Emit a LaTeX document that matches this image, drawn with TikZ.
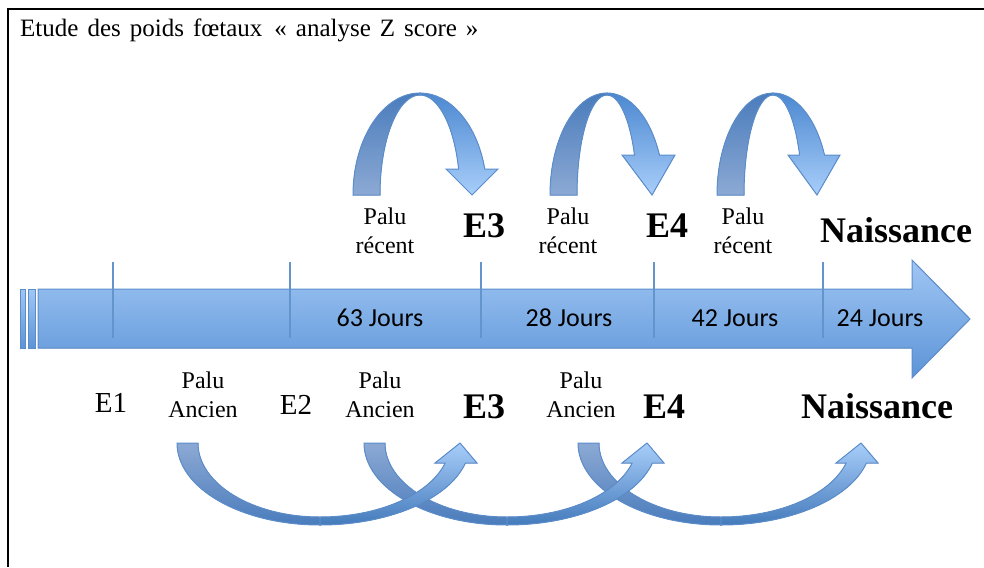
\documentclass[tikz,border=0pt]{standalone}
\usepackage{fontspec}
\setmainfont{Liberation Serif}
\newfontfamily\calibri{Carlito}
\definecolor{bandline}{RGB}{92,141,203}
\definecolor{tickblue}{RGB}{100,148,204}
\definecolor{barlight}{RGB}{160,198,244}
\definecolor{bardark}{RGB}{92,148,215}
\definecolor{backtop}{RGB}{74,124,188}
\definecolor{backbot}{RGB}{140,169,212}
\definecolor{fronttop}{RGB}{76,136,208}
\definecolor{frontbot}{RGB}{168,206,250}

% curved arrow over the bar: #1 leg x, #2 peak x, #3 head base y, #4/#5 head corners, #6 tip x
\newcommand\toparc[6]{%
  \pgfmathsetmacro\ao{#2-#1}
  \pgfmathsetmacro\ai{#2-#1-27}
  \pgfmathsetmacro\angout{360-asin((195-#3)/102)}
  \pgfmathsetmacro\angin{360-asin((195-#3)/100)}
  \filldraw[back] (#1,195) arc[start angle=180, end angle=270, x radius=\ao, y radius=102]
    -- (#2,95) arc[start angle=270, end angle=180, x radius=\ai, y radius=100] -- cycle;
  \filldraw[front] (#2,93) arc[start angle=270, end angle=\angout, x radius=\ao, y radius=102]
    -- (#5,#3) -- (#6,195) -- (#4,#3) -- ({#2+\ai*cos(\angin)},#3)
    arc[start angle=\angin, end angle=270, x radius=\ai, y radius=100] -- cycle;
}
% curved arrow under the bar: #1 leg x
\newcommand\botarc[1]{%
  \pgfmathsetmacro\cx{#1+143}
  \filldraw[backlow] (#1,443) arc[start angle=180, end angle=90, x radius=143, y radius=82]
    -- (\cx,517) arc[start angle=90, end angle=180, x radius=122, y radius=74] -- cycle;
  \filldraw[frontlow] (\cx,525) arc[start angle=90, end angle={asin(20/82)}, x radius=150, y radius=82]
    -- (#1+300,463) -- (#1+283,443) -- (#1+258,463) -- ({\cx+130*cos(asin(20/74))},463)
    arc[start angle={asin(20/74)}, end angle=90, x radius=130, y radius=74] -- cycle;
}

\begin{document}
\begin{tikzpicture}[x=1pt,y=-1pt,
    lab/.style={font=\fontsize{24}{28.5}\selectfont,align=center,inner sep=0pt,anchor=base},
    ev/.style={font=\fontsize{29}{32}\selectfont,inner sep=0pt,anchor=base},
    big/.style={font=\fontsize{36}{40}\selectfont\bfseries,inner sep=0pt,anchor=base},
    jours/.style={font=\calibri\fontsize{26}{30}\selectfont,inner sep=0pt,anchor=base},
    tick/.style={draw=tickblue,line width=2.8pt},
    back/.style={draw=bandline,line width=1pt,top color=backtop,bottom color=backbot},
    front/.style={draw=bandline,line width=1pt,top color=fronttop,bottom color=frontbot},
    backlow/.style={draw=bandline,line width=1pt,top color=backbot,bottom color=backtop},
    frontlow/.style={draw=bandline,line width=1pt,top color=frontbot,bottom color=fronttop!90!black}]
\useasboundingbox (0,0) rectangle (984,567);
\draw[line width=2pt] (984,9) -- (8,9) -- (8,567);
\node[font=\fontsize{25}{28}\selectfont,anchor=base west,inner sep=0pt] (title) at (20,37)
  {\spaceskip=9pt\relax Etude des poids fœtaux \hspace{3pt}«~analyse Z score~»};

% the time bar
\filldraw[draw=bandline,line width=1pt,top color=barlight,bottom color=bardark]
  (38,289) -- (912,289) -- (912,260) -- (970,319) -- (912,378) -- (912,348) -- (38,348) -- cycle;
\filldraw[draw=bandline,line width=1pt,top color=barlight,bottom color=bardark] (20,289) rectangle (25,348);
\filldraw[draw=bandline,line width=1pt,top color=barlight,bottom color=bardark] (28,289) rectangle (35,348);
\foreach \t/\x in {t1/113,t2/290,t3/481,t4/654,t5/823}{
  \coordinate (\t) at (\x,262);
  \draw[tick] (\t) -- ++(0,76);
}
\node[jours] (j1) at (380,326) {63 Jours};
\node[jours] (j2) at (569,326) {28 Jours};
\node[jours] (j3) at (735,326) {42 Jours};
\node[jours] (j4) at (880,326) {24 Jours};

% recent malaria
\toparc{353}{420}{169}{446}{498}{472}
\toparc{550}{607}{155}{622}{675}{652}
\toparc{717}{773}{155}{788}{840}{817}
\node[lab] (r1) at (385,253) {Palu\\récent};
\node[lab] (r2) at (568,253) {Palu\\récent};
\node[lab] (r3) at (743,253) {Palu\\récent};
\node[big] (e3a) at (484,237) {E3};
\node[big] (e4a) at (667,237) {E4};
\node[big] (na) at (896,242) {Naissance};

% old malaria
\botarc{578}
\botarc{364}
\botarc{177}
\node[ev] (e1) at (111,412) {E1};
\node[ev] (e2) at (296,414) {E2};
\node[lab] (a1) at (203,417) {Palu\\Ancien};
\node[lab] (a2) at (380,417) {Palu\\Ancien};
\node[lab] (a3) at (581,417) {Palu\\Ancien};
\node[big] (e3b) at (484,418) {E3};
\node[big] (e4b) at (664,418) {E4};
\node[big] (nb) at (877,418) {Naissance};
\end{tikzpicture}
\end{document}
